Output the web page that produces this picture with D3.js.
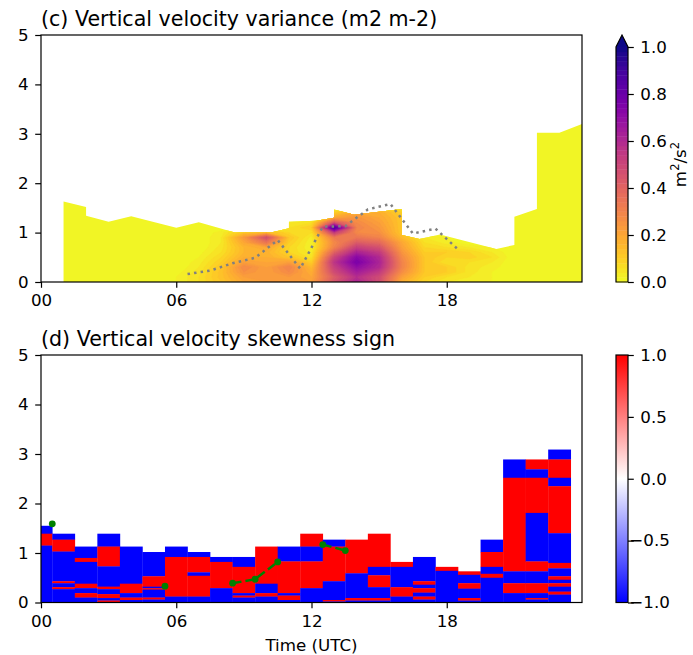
<!DOCTYPE html>
<html>
<head>
<meta charset="utf-8">
<script src="https://cdn.jsdelivr.net/npm/d3@7"></script>
<style>
  body { margin: 0; background: #fff; }
  text { font-family: "DejaVu Sans", sans-serif; fill: #000; }
</style>
</head>
<body>
<div id="chart"></div>
<script>
// ---- panel (c): variance profiles, one per hour (heights 0.0 .. 1.6 km every 0.1)
var varHours = d3.range(1, 25);
var varHeights = [0, 0.1, 0.2, 0.3, 0.4, 0.5, 0.6, 0.7, 0.8, 0.9, 1.0, 1.1, 1.2, 1.3, 1.4, 1.5, 1.6];
var varProfiles = [
  [0,0,0,0,0,0,0,0,0,0,0,0,0,0,0,0,0],                                  // 01
  [0,0,0,0,0,0,0,0,0,0,0,0,0,0,0,0,0],                                  // 02
  [0,0,0,0,0,0,0,0,0,0,0,0,0,0,0,0,0],                                  // 03
  [0,0,0,0,0,0,0,0,0,0,0,0,0,0,0,0,0],                                  // 04
  [0,0,0,0,0,0,0,0,0,0,0,0,0,0,0,0,0],                                  // 05
  [0.02,0.02,0.01,0,0,0,0,0,0,0,0,0,0,0,0,0,0],                         // 06
  [0.06,0.06,0.05,0.04,0.03,0.02,0.01,0,0,0,0,0,0,0,0,0,0],             // 07
  [0.12,0.13,0.13,0.12,0.1,0.08,0.06,0.05,0.04,0.04,0.03,0,0,0,0,0,0],  // 08
  [0.2,0.22,0.26,0.28,0.22,0.18,0.16,0.16,0.2,0.24,0.12,0,0,0,0,0,0],   // 09
  [0.22,0.22,0.22,0.22,0.2,0.18,0.17,0.2,0.34,0.47,0.15,0,0,0,0,0,0],   // 10
  [0.22,0.24,0.28,0.3,0.22,0.12,0.08,0.08,0.1,0.12,0.08,0.06,0.04,0,0,0,0], // 11
  [0.22,0.2,0.18,0.15,0.1,0.05,0.03,0.02,0.02,0.03,0.06,0.1,0.06,0,0,0,0], // 12
  [0.45,0.42,0.48,0.52,0.56,0.5,0.4,0.3,0.28,0.32,0.52,0.88,0.45,0.2,0.1,0,0], // 13
  [0.62,0.58,0.64,0.7,0.76,0.72,0.62,0.52,0.42,0.34,0.28,0.3,0.28,0.25,0.2,0.1,0], // 14
  [0.48,0.48,0.54,0.6,0.62,0.6,0.54,0.46,0.38,0.3,0.26,0.24,0.22,0.2,0.18,0.1,0], // 15
  [0.18,0.22,0.27,0.3,0.3,0.28,0.25,0.22,0.2,0.15,0.12,0.12,0.12,0.12,0.1,0.05,0], // 16
  [0.08,0.1,0.12,0.12,0.12,0.12,0.1,0.08,0.06,0.04,0,0,0,0,0,0,0],      // 17
  [0.04,0.06,0.1,0.1,0.06,0.08,0.1,0.06,0.03,0.02,0,0,0,0,0,0,0],       // 18
  [0.03,0.04,0.05,0.05,0.06,0.09,0.08,0.04,0,0,0,0,0,0,0,0,0],          // 19
  [0.02,0.02,0.02,0.03,0.04,0.06,0.04,0.02,0,0,0,0,0,0,0,0,0],          // 20
  [0,0,0,0,0,0,0,0,0,0,0,0,0,0,0,0,0],                                  // 21
  [0,0,0,0,0,0,0,0,0,0,0,0,0,0,0,0,0],                                  // 22
  [0,0,0,0,0,0,0,0,0,0,0,0,0,0,0,0,0],                                  // 23
  [0,0,0,0,0,0,0,0,0,0,0,0,0,0,0,0,0]                                   // 24
];
// top of valid data (hour, km)
var varTop = [[1,1.63],[2,1.52],[2,1.34],[3,1.22],[4,1.33],[6,1.1],[7,1.21],[8.6,1.0],
  [10.2,1.0],[11,1.09],[11,1.22],[12.2,1.24],[13,1.3],[13,1.47],[13.9,1.36],[16,1.48],
  [16,0.95],[16.8,0.87],[17.7,0.96],[20.2,0.67],[21,0.75],[21,1.32],[22,1.48],[22,3.02],
  [23,3.02],[24,3.2]];
// dotted grey line in panel (c)
var pblHours   = [6.5, 7.5, 8.5, 9.5, 10.5, 11.5, 12.5, 13.5, 14.5, 15.5, 16.5, 17.5, 18.5];
var pblHeights = [0.16, 0.23, 0.38, 0.49, 0.85, 0.27, 1.12, 1.13, 1.47, 1.58, 0.98, 1.08, 0.66];

// ---- panel (d): skewness sign, per hour column: [top of segment (km), sign] from top down
var skewHours = d3.range(0, 24);
var skewCols = [
  [[1.55,-1],[1.39,1],[1.15,-1]],
  [[1.39,-1],[1.27,1],[1.03,-1],[0.43,1],[0.39,-1],[0.31,1],[0.27,-1]],
  [[1.13,-1],[0.90,1],[0.82,-1],[0.38,1],[0.29,-1],[0.19,1],[0.10,-1]],
  [[1.39,-1],[1.13,1],[0.73,-1],[0.32,1],[0.27,-1],[0.17,1],[0.09,-1],[0.04,1]],
  [[1.13,-1],[0.38,1],[0.19,-1],[0.10,1],[0.05,-1]],
  [[1.02,-1],[0.53,1],[0.32,-1],[0.29,1],[0.26,-1],[0.10,1],[0.06,-1]],
  [[1.13,-1],[0.92,1],[0.12,-1]],
  [[1.02,-1],[0.92,1],[0.61,-1],[0.54,1],[0.12,-1]],
  [[0.92,-1],[0.82,1],[0.29,-1]],
  [[0.92,-1],[0.72,1],[0.19,-1],[0.14,1],[0.10,-1]],
  [[1.13,1],[0.38,-1],[0.19,1],[0.12,-1]],
  [[1.13,-1],[0.83,1],[0.19,-1],[0.14,1],[0.05,-1]],
  [[1.39,1],[1.13,-1],[0.83,1],[0.29,-1]],
  [[1.27,-1],[1.13,1],[0.43,-1],[0.05,1],[0.02,-1]],
  [[1.27,1],[0.59,-1],[0.09,1],[0.04,-1]],
  [[1.39,1],[0.72,-1],[0.55,1],[0.31,-1],[0.09,1],[0.04,-1]],
  [[0.82,1],[0.72,-1],[0.31,1],[0.12,-1]],
  [[0.92,-1],[0.43,1],[0.36,-1],[0.29,1],[0.20,-1],[0.12,1],[0.06,-1]],
  [[0.72,1],[0.64,-1]],
  [[0.63,1],[0.56,-1],[0.39,1],[0.28,-1],[0.09,1],[0.04,-1]],
  [[1.27,-1],[1.02,1],[0.72,-1],[0.58,1],[0.50,-1]],
  [[2.89,-1],[2.52,1],[0.63,-1],[0.39,1],[0.19,-1]],
  [[2.89,1],[2.69,-1],[2.52,1],[1.81,-1],[0.83,1],[0.63,-1],[0.39,1],[0.19,-1],[0.09,1],[0.06,-1]],
  [[3.09,-1],[2.89,1],[2.52,-1],[2.35,1],[1.40,-1],[0.80,1],[0.69,-1],[0.53,1],[0.46,-1],[0.39,1],[0.32,-1],[0.22,1],[0.16,-1]]
];
// green dashed line in panel (d), half-hour points, null = missing
var jumpHours   = d3.range(0.5, 24, 1);
var jumpHeights = [1.59,null,null,null,null,0.33,null,null,0.39,0.47,0.82,null,1.17,1.05,
  null,null,null,null,null,null,null,null,null,null];

// ---- axes ticks
var hourTicks = [0, 6, 12, 18];
var hourLabels = ["00", "06", "12", "18"];
var heightTicks = [0, 1, 2, 3, 4, 5];
var varCbTicks = [0, 0.2, 0.4, 0.6, 0.8, 1.0];
var skewCbTicks = [-1, -0.5, 0, 0.5, 1];

// ---- layout
var width = 693, height = 655;
var axLeft = 41, axRight = 582;
var topY = [35, 282], botY = [355, 602.5];
var cbX = 616, cbW = 12;
var tickLen = 5.8, tickPad = 6.5;

var svg = d3.select("#chart").append("svg")
    .attr("width", width)
    .attr("height", height);

var x = d3.scaleLinear().domain([0, 24]).range([axLeft, axRight]);
var yTop = d3.scaleLinear().domain([0, 5]).range([topY[1], topY[0]]);
var yBot = d3.scaleLinear().domain([0, 5]).range([botY[1], botY[0]]);

// plasma reversed, 50 levels with "extend max"
var nLev = 50;
var levels = d3.range(0, nLev + 1).map(function(i) { return i / nLev; });
function bandColor(i) { return d3.interpolatePlasma(1 - (i + 0.5) / nLev); }
var overColor = d3.interpolatePlasma(0);

var defs = svg.append("defs");

// ---------- panel (c)
var boundary = [[varTop[0][0], 0]].concat(varTop).concat([[varTop[varTop.length - 1][0], 0]]);
defs.append("clipPath").attr("id", "varClip")
  .append("path")
    .attr("d", d3.line().x(function(d) { return x(d[0]); }).y(function(d) { return yTop(d[1]); })(boundary) + "Z");

var nx = varHours.length, ny = varHeights.length;
var grid = new Array(nx * ny);
for (var j = 0; j < ny; j++) {
  for (var i = 0; i < nx; i++) {
    grid[j * nx + i] = varProfiles[i][j];
  }
}
var dHour = varHours[1] - varHours[0], dHgt = varHeights[1] - varHeights[0];
var proj = d3.geoTransform({
  point: function(cx, cy) {
    this.stream.point(x(varHours[0] + (cx - 0.5) * dHour), yTop(varHeights[0] + (cy - 0.5) * dHgt));
  }
});
var geo = d3.geoPath(proj);

var contourThresholds = levels.slice(1);  // 0.02 .. 1.0
var contours = d3.contours().size([nx, ny]).thresholds(contourThresholds)(grid);

var gVar = svg.append("g").attr("clip-path", "url(#varClip)");
gVar.append("rect")
    .attr("x", axLeft).attr("y", topY[0])
    .attr("width", axRight - axLeft).attr("height", topY[1] - topY[0])
    .attr("fill", bandColor(0));
gVar.selectAll("path.band")
  .data(contours)
  .enter().append("path")
    .attr("class", "band")
    .attr("d", geo)
    .attr("fill", function(d, k) { return k + 1 >= nLev ? overColor : bandColor(k + 1); })
    .attr("stroke", function(d, k) { return k + 1 >= nLev ? overColor : bandColor(k + 1); })
    .attr("stroke-width", 0.4);

svg.append("path")
    .datum(d3.zip(pblHours, pblHeights))
    .attr("fill", "none")
    .attr("stroke", "#808080")
    .attr("stroke-width", 2.5)
    .attr("stroke-dasharray", "2.5,4.1")
    .attr("d", d3.line().x(function(d) { return x(d[0]); }).y(function(d) { return yTop(d[1]); }));

// ---------- panel (d)
defs.append("clipPath").attr("id", "botClip")
  .append("rect")
    .attr("x", axLeft).attr("y", botY[0])
    .attr("width", axRight - axLeft).attr("height", botY[1] - botY[0]);

var signColor = d3.scaleLinear().domain([-1, 0, 1]).range(["#0000ff", "#ffffff", "#ff0000"]);

var cells = [];
skewCols.forEach(function(col, ci) {
  col.forEach(function(seg, k) {
    cells.push({
      hour: skewHours[ci],
      top: seg[0],
      bottom: k + 1 < col.length ? col[k + 1][0] : 0,
      sign: seg[1]
    });
  });
});

var gSkew = svg.append("g").attr("clip-path", "url(#botClip)");
gSkew.selectAll("rect")
  .data(cells)
  .enter().append("rect")
    .attr("x", function(d) { return x(d.hour - 0.5); })
    .attr("width", function(d) { return x(d.hour + 0.5) - x(d.hour - 0.5) + 0.3; })
    .attr("y", function(d) { return yBot(d.top); })
    .attr("height", function(d) { return yBot(d.bottom) - yBot(d.top) + 0.3; })
    .attr("fill", function(d) { return signColor(d.sign); });

var jump = d3.zip(jumpHours, jumpHeights);
svg.append("path")
    .datum(jump)
    .attr("fill", "none")
    .attr("stroke", "#008000")
    .attr("stroke-width", 2.5)
    .attr("stroke-dasharray", "9,4")
    .attr("d", d3.line()
        .defined(function(d) { return d[1] != null; })
        .x(function(d) { return x(d[0]); })
        .y(function(d) { return yBot(d[1]); }));
svg.selectAll("circle.jump")
  .data(jump.filter(function(d) { return d[1] != null; }))
  .enter().append("circle")
    .attr("class", "jump")
    .attr("cx", function(d) { return x(d[0]); })
    .attr("cy", function(d) { return yBot(d[1]); })
    .attr("r", 3.4)
    .attr("fill", "#008000");

// ---------- axes, frames, titles
function styleAxis(g) {
  g.select(".domain").remove();
  g.selectAll(".tick line").attr("stroke", "#000").attr("stroke-width", 1.2);
  g.selectAll(".tick text").attr("font-size", 16.7).attr("font-family", "DejaVu Sans");
}

[[yTop, topY], [yBot, botY]].forEach(function(p) {
  var ys = p[0], yr = p[1];
  svg.append("g")
      .attr("transform", "translate(0," + yr[1] + ")")
      .call(d3.axisBottom(x).tickValues(hourTicks)
          .tickFormat(function(d, i) { return hourLabels[i]; })
          .tickSize(tickLen).tickPadding(tickPad))
      .call(styleAxis);
  svg.append("g")
      .attr("transform", "translate(" + axLeft + ",0)")
      .call(d3.axisLeft(ys).tickValues(heightTicks).tickFormat(d3.format("d"))
          .tickSize(tickLen).tickPadding(tickPad))
      .call(styleAxis);
  svg.append("rect")
      .attr("x", axLeft).attr("y", yr[0])
      .attr("width", axRight - axLeft).attr("height", yr[1] - yr[0])
      .attr("fill", "none").attr("stroke", "#000").attr("stroke-width", 1.2);
});

svg.append("text")
    .attr("x", axLeft).attr("y", 26)
    .attr("font-size", 20.6)
    .text("(c) Vertical velocity variance (m2 m-2)");
svg.append("text")
    .attr("x", axLeft).attr("y", 346)
    .attr("font-size", 20.6)
    .text("(d) Vertical velocity skewness sign");
svg.append("text")
    .attr("x", (axLeft + axRight) / 2).attr("y", 651)
    .attr("text-anchor", "middle")
    .attr("font-size", 16.7)
    .text("Time (UTC)");

// ---------- colorbar (c)
var cbTop = topY[0] + 12;
var cbVar = d3.scaleLinear().domain([0, 1]).range([topY[1], cbTop]);
svg.append("g").selectAll("rect")
  .data(d3.range(nLev))
  .enter().append("rect")
    .attr("x", cbX).attr("width", cbW)
    .attr("y", function(i) { return cbVar((i + 1) / nLev); })
    .attr("height", function(i) { return cbVar(i / nLev) - cbVar((i + 1) / nLev) + 0.4; })
    .attr("fill", function(i) { return bandColor(i); });
svg.append("path")
    .attr("d", "M" + cbX + "," + cbTop + "L" + (cbX + cbW / 2) + "," + topY[0] + "L" + (cbX + cbW) + "," + cbTop + "Z")
    .attr("fill", overColor);
svg.append("path")
    .attr("d", "M" + cbX + "," + topY[1] + "L" + cbX + "," + cbTop + "L" + (cbX + cbW / 2) + "," + topY[0] +
               "L" + (cbX + cbW) + "," + cbTop + "L" + (cbX + cbW) + "," + topY[1] + "Z")
    .attr("fill", "none").attr("stroke", "#000").attr("stroke-width", 1.2);
svg.append("g")
    .attr("transform", "translate(" + (cbX + cbW) + ",0)")
    .call(d3.axisRight(cbVar).tickValues(varCbTicks).tickFormat(d3.format(".1f"))
        .tickSize(tickLen).tickPadding(tickPad))
    .call(styleAxis);
var cbLab = svg.append("text")
    .attr("transform", "translate(686," + ((topY[0] + topY[1]) / 2 + 6) + ") rotate(-90)")
    .attr("text-anchor", "middle")
    .attr("font-size", 16.7);
cbLab.append("tspan").text("m");
cbLab.append("tspan").attr("dy", -7).attr("font-size", 11.5).text("2");
cbLab.append("tspan").attr("dy", 7).text("/s");
cbLab.append("tspan").attr("dy", -7).attr("font-size", 11.5).text("2");

// ---------- colorbar (d)
var grad = defs.append("linearGradient").attr("id", "bwr")
    .attr("x1", 0).attr("y1", 1).attr("x2", 0).attr("y2", 0);
grad.selectAll("stop")
  .data([[0, "#0000ff"], [0.5, "#ffffff"], [1, "#ff0000"]])
  .enter().append("stop")
    .attr("offset", function(d) { return d[0]; })
    .attr("stop-color", function(d) { return d[1]; });
var cbSkew = d3.scaleLinear().domain([-1, 1]).range([botY[1], botY[0]]);
svg.append("rect")
    .attr("x", cbX).attr("y", botY[0]).attr("width", cbW).attr("height", botY[1] - botY[0])
    .attr("fill", "url(#bwr)").attr("stroke", "#000").attr("stroke-width", 1.2);
svg.append("g")
    .attr("transform", "translate(" + (cbX + cbW) + ",0)")
    .call(d3.axisRight(cbSkew).tickValues(skewCbTicks).tickFormat(d3.format(".1f"))
        .tickSize(tickLen).tickPadding(tickPad))
    .call(styleAxis)
    .selectAll(".tick text")
    .attr("x", function(d) { return d < 0 ? tickLen + tickPad - 11 : tickLen + tickPad; });
</script>
</body>
</html>
